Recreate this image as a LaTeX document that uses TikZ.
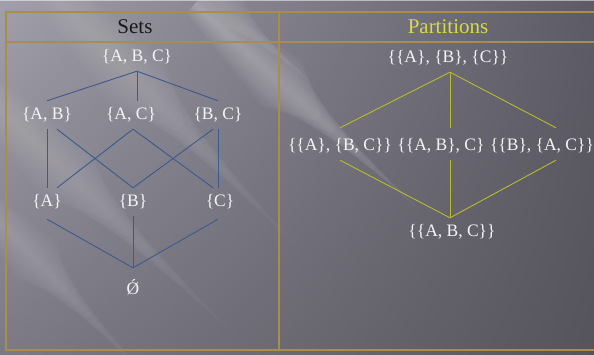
\documentclass[tikz,border=0pt]{standalone}
\usepackage{fontspec}
\setmainfont{Liberation Serif}
\usetikzlibrary{shadings,calc}

\definecolor{bgA}{HTML}{A19FA9}
\definecolor{bgB}{HTML}{7F7D88}
\definecolor{bgC}{HTML}{7B7984}
\definecolor{bgD}{HTML}{696871}
\definecolor{bgE}{HTML}{5D5C66}
\definecolor{bgF}{HTML}{55545C}
\definecolor{framegold}{HTML}{A88D4C}
\definecolor{setblue}{HTML}{3C5A8C}
\definecolor{partyellow}{HTML}{B9BA2C}
\definecolor{headyellow}{HTML}{D8DC3E}
\definecolor{nodewhite}{HTML}{F4F4F6}

% a soft light beam: nested lens-shaped bands of faint white
% #1 start, #2 end, #3 half width, #4 opacity of each band
\newcommand\lightbeam[4]{%
  \foreach \k in {1,...,8}{%
    \pgfmathsetmacro\bmhw{#3*\k/8}%
    \pgfmathsetmacro\bmhs{0.4*#3*\k/8}%
    \pgfmathsetmacro\bmhv{0.15*#3*\k/8}%
    \pgfmathsetmacro\bmlen{0.98-0.06*(\k-1)}%
    \fill[white, opacity=#4]
      ($(#1)!0.02!(#2)!\bmhs pt!90:(#2)$)
      -- ($(#1)!0.4!(#2)!\bmhw pt!90:(#2)$)
      -- ($(#1)!\bmlen!(#2)!\bmhv pt!90:(#2)$)
      -- ($(#1)!\bmlen!(#2)!\bmhv pt!-90:(#2)$)
      -- ($(#1)!0.4!(#2)!\bmhw pt!-90:(#2)$)
      -- ($(#1)!0.02!(#2)!\bmhs pt!-90:(#2)$)
      -- cycle;
  }}

\tikzset{
  lat/.style={text=nodewhite, font=\fontsize{17.5}{20}\selectfont,
    inner sep=0pt, minimum height=28pt},
  head/.style={font=\fontsize{21}{23}\selectfont, inner sep=0pt},
  setedge/.style={draw=setblue, line width=0.9pt},
  partedge/.style={draw=partyellow, line width=0.9pt},
  framelines/.style={draw=framegold, line width=1.6pt},
}

\begin{document}
\begin{tikzpicture}[x=1pt, y=-1pt]
  \useasboundingbox (0,0) rectangle (594,355);

  % backdrop: lighter on the left, darker to the right
  \shade[upper left=bgA, upper right=bgB, lower left=bgC, lower right=bgD]
    (0,0) rectangle (300,355);
  \shade[upper left=bgB, upper right=bgE, lower left=bgD, lower right=bgF]
    (300,0) rectangle (594,355);
  \begin{scope}
    \clip (0,0) rectangle (594,355);
    \lightbeam{190,0}{420,210}{30}{0.035}
    \lightbeam{30,-30}{300,250}{36}{0.02}
    \lightbeam{-50,60}{240,340}{34}{0.02}
    \lightbeam{-40,180}{150,380}{28}{0.02}
    \lightbeam{170,-40}{320,90}{20}{0.02}
  \end{scope}
  \fill[white, opacity=0.5] (0,0) rectangle (594,1.5);

  % table frame
  \draw[framelines] (600,12) -- (6,12) -- (6,350) -- (600,350);
  \draw[framegold, line width=1.2pt] (6,42) -- (600,42);
  \draw[framegold, line width=1.2pt] (279,12) -- (279,350);

  % column headings
  \node[head, text=black!90] (hsets) at (135,27) {Sets};
  \node[head, text=headyellow] (hpart) at (448,27) {Partitions};

  % subset lattice
  \node[lat] (abc) at (137,57)  {\{A, B, C\}};
  \node[lat] (ab)  at (47,115)  {\{A, B\}};
  \node[lat] (ac)  at (131,115) {\{A, C\}};
  \node[lat] (bc)  at (218,115) {\{B, C\}};
  \node[lat] (a)   at (47,202)  {\{A\}};
  \node[lat] (b)   at (133,202) {\{B\}};
  \node[lat] (c)   at (220,202) {\{C\}};
  \node[lat] (e)   at (133,287) {Ǿ};

  \draw[setedge] (abc.south) -- (ab.north);
  \draw[setedge] (abc.south) -- ([xshift=6]ac.north);
  \draw[setedge] (abc.south) -- (bc.north);
  \draw[setedge] (ab.south) -- (a.north);
  \draw[setedge] ([xshift=10]ab.south) -- (b.north);
  \draw[setedge] ([xshift=2]ac.south) -- ([xshift=10]a.north);
  \draw[setedge] ([xshift=2]ac.south) -- ([xshift=-7]c.north);
  \draw[setedge] ([xshift=-5]bc.south) -- (b.north);
  \draw[setedge] (bc.south) -- ([xshift=-2]c.north);
  \draw[setedge] ([yshift=-3]a.south) -- ([yshift=5]e.north);
  \draw[setedge] (b.south) -- ([yshift=5]e.north);
  \draw[setedge] ([xshift=-2,yshift=-3]c.south) -- ([yshift=5]e.north);

  % partition lattice
  \node[lat] (p0) at (448,58)  {\{\{A\}, \{B\}, \{C\}\}};
  \node[lat] (p1) at (340,146) {\{\{A\}, \{B, C\}\}};
  \node[lat] (p2) at (441,146) {\{\{A, B\}, C\}};
  \node[lat] (p3) at (542,146) {\{\{B\}, \{A, C\}\}};
  \node[lat] (p4) at (452,232) {\{\{A, B, C\}\}};

  \draw[partedge] ([xshift=2]p0.south) -- ([yshift=4]p1.north);
  \draw[partedge] ([xshift=2]p0.south) -- ([xshift=9,yshift=4]p2.north);
  \draw[partedge] ([xshift=2]p0.south) -- ([xshift=14,yshift=4]p3.north);
  \draw[partedge] (p1.south) -- ([xshift=-2]p4.north);
  \draw[partedge] ([xshift=9]p2.south) -- ([xshift=-2]p4.north);
  \draw[partedge] ([xshift=14]p3.south) -- ([xshift=-2]p4.north);
\end{tikzpicture}
\end{document}
